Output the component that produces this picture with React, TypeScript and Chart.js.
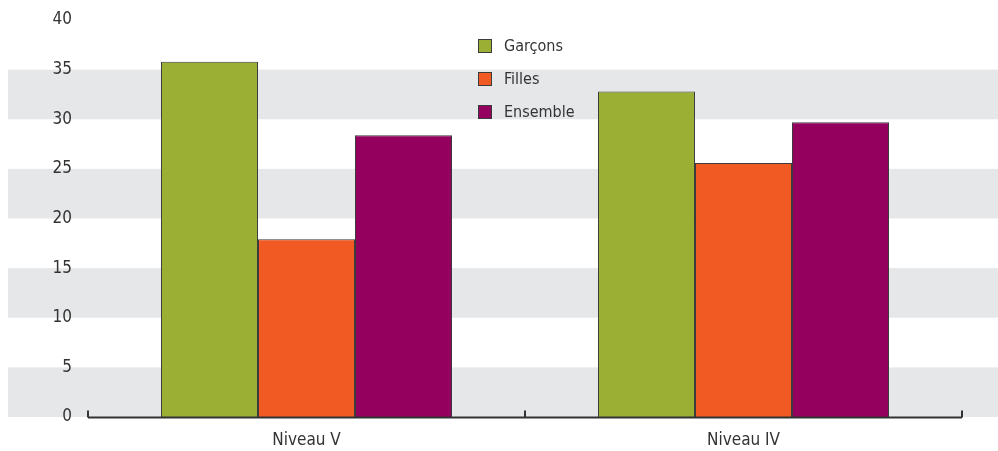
import React, { useEffect, useRef } from "react";
import { Chart, registerables } from "chart.js";

Chart.register(...registerables);

const categories = ["Niveau V", "Niveau IV"];
const seriesLabels = ["Garçons", "Filles", "Ensemble"];
const garcons = [35.8, 32.8];
const filles = [17.9, 25.6];
const ensemble = [28.4, 29.7];
const colors = ["#9BAF35", "#F15A22", "#93005E"];
const yTicks = [0, 5, 10, 15, 20, 25, 30, 35, 40];

const FONT = "'Liberation Sans Narrow', 'DejaVu Sans Condensed', 'Roboto', sans-serif";

const bandsPlugin = {
  id: "bands",
  beforeDraw(chart: any) {
    const { ctx, scales } = chart;
    const y = scales.y;
    ctx.save();
    ctx.fillStyle = "#E6E7E9";
    for (let v = 0; v < 40; v += 10) {
      const top = y.getPixelForValue(v + 5);
      const bot = y.getPixelForValue(v);
      ctx.fillRect(8, top, chart.width - 8, bot - top);
    }
    ctx.restore();
  },
};

const axisPlugin = {
  id: "axisLine",
  afterDatasetsDraw(chart: any) {
    const { ctx, chartArea } = chart;
    const yb = chartArea.bottom + 0.5;
    const mid = (chartArea.left + chartArea.right) / 2;
    ctx.save();
    ctx.strokeStyle = "#333333";
    ctx.lineWidth = 2;
    ctx.beginPath();
    ctx.moveTo(chartArea.left, yb);
    ctx.lineTo(chartArea.right, yb);
    for (const x of [chartArea.left, mid, chartArea.right]) {
      ctx.moveTo(x, yb);
      ctx.lineTo(x, yb - 7);
    }
    ctx.stroke();
    ctx.restore();
  },
};

export default function App() {
  const ref = useRef<HTMLCanvasElement | null>(null);
  useEffect(() => {
    document.body.style.margin = "0";
    const chart = new Chart(ref.current as HTMLCanvasElement, {
      type: "bar",
      data: {
        labels: categories,
        datasets: [garcons, filles, ensemble].map((d, i) => ({
          label: seriesLabels[i],
          data: d,
          backgroundColor: colors[i],
          borderColor: "#3c3c3c",
          borderWidth: 1,
          categoryPercentage: 0.666,
          barPercentage: 1,
        })),
      },
      options: {
        animation: false,
        responsive: false,
        devicePixelRatio: 1,
        layout: { padding: { top: 20, right: 36, left: 0, bottom: 0 } },
        plugins: { legend: { display: false }, tooltip: { enabled: false } },
        scales: {
          x: {
            grid: { display: false, drawTicks: false },
            border: { display: false },
            ticks: { color: "#333", font: { family: FONT, size: 17 }, padding: 13 },
            afterFit: (s: any) => { s.height = 34; s.paddingLeft = 0; s.paddingRight = 0; },
          },
          y: {
            min: 0,
            max: 40,
            grid: { display: false, drawTicks: false },
            border: { display: false },
            afterBuildTicks: (s: any) => { s.ticks = yTicks.map((v) => ({ value: v })); },
            ticks: { color: "#333", font: { family: FONT, size: 17 }, padding: 16 },
            afterFit: (s: any) => { s.width = 88; s.paddingTop = 0; s.paddingBottom = 0; },
          },
        },
      },
      plugins: [bandsPlugin, axisPlugin],
    });
    return () => chart.destroy();
  }, []);

  return (
    <div style={{ position: "relative", width: 998, height: 451 }}>
      <canvas ref={ref} width={998} height={451} style={{ display: "block" }} />
      <div style={{ position: "absolute", left: 478, top: 29, fontFamily: FONT, fontSize: 16, color: "#333" }}>
        {seriesLabels.map((l, i) => (
          <div key={l} style={{ display: "flex", alignItems: "center", height: 33 }}>
            <span style={{ width: 12, height: 12, background: colors[i], border: "1px solid #3c3c3c", marginRight: 12, display: "inline-block" }} />
            <span>{l}</span>
          </div>
        ))}
      </div>
    </div>
  );
}
